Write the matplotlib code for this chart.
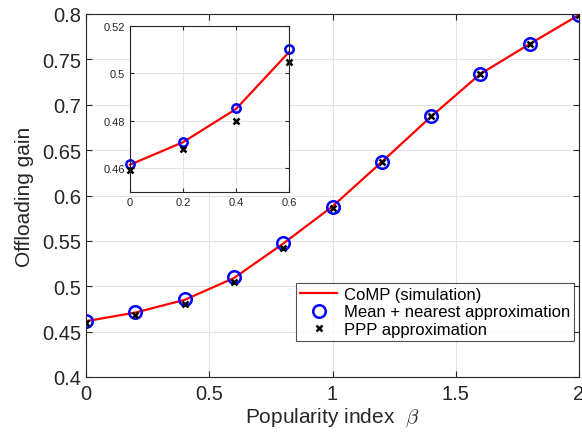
import matplotlib
matplotlib.use('Agg')
import matplotlib.pyplot as plt

plt.rcParams['font.family'] = ['Liberation Sans', 'DejaVu Sans']
plt.rcParams['mathtext.fontset'] = 'cm'

# data
beta = [0, 0.2, 0.4, 0.6, 0.8, 1.0, 1.2, 1.4, 1.6, 1.8, 2.0]
comp_sim = [0.4615, 0.4710, 0.4850, 0.5090, 0.5470, 0.5880, 0.6370, 0.6870, 0.7340, 0.7670, 0.7990]
mean_nearest = [0.4618, 0.4711, 0.4854, 0.5105, 0.5477, 0.5877, 0.6370, 0.6880, 0.7340, 0.7670, 0.7990]
ppp = [0.4593, 0.4680, 0.4801, 0.5049, 0.5425, 0.5865, 0.6365, 0.6875, 0.7335, 0.7665, 0.7985]

grid_col = '#e3e3e3'
axis_col = '#262626'


def style(ax, size):
    ax.grid(True, color=grid_col, linewidth=0.8)
    ax.set_axisbelow(True)
    ax.tick_params(direction='in', top=True, right=True, labelsize=size,
                   colors=axis_col, length=4)
    for s in ax.spines.values():
        s.set_color(axis_col)
        s.set_linewidth(0.8)


fig = plt.figure(figsize=(5.82, 4.39), dpi=100)
W, H = 582, 439
ax = fig.add_axes([86 / W, 1 - 378 / H, (579 - 86) / W, (378 - 15) / H])

ax.plot(beta, comp_sim, color='red', lw=1.6, label='CoMP (simulation)')
ax.plot(beta, mean_nearest, 'o', ms=9, mfc='none', mec='blue', mew=1.8,
        label='Mean + nearest approximation')
ax.plot(beta, ppp, 'x', ms=5, color='black', mew=1.8, label='PPP approximation')
ax.set_xlim(0, 2)
ax.set_ylim(0.4, 0.8)
ax.set_xticks([0, 0.5, 1, 1.5, 2])
ax.set_xticklabels(['0', '0.5', '1', '1.5', '2'])
ax.set_yticks([0.4, 0.45, 0.5, 0.55, 0.6, 0.65, 0.7, 0.75, 0.8])
ax.set_yticklabels(['0.4', '0.45', '0.5', '0.55', '0.6', '0.65', '0.7', '0.75', '0.8'])
style(ax, 14.5)
ax.tick_params(axis='x', pad=5)
ax.set_xlabel(r'Popularity index  $\beta$', fontsize=15, color=axis_col, labelpad=2)
ax.set_ylabel('Offloading gain', fontsize=15, color=axis_col, labelpad=0)
ax.yaxis.set_label_coords(-0.105, 0.5)

leg = ax.legend(loc='lower right', bbox_to_anchor=(1.0, 0.085), fontsize=12,
                frameon=True, fancybox=False, edgecolor=axis_col,
                handlelength=2.2, handletextpad=0.4, borderpad=0.25,
                labelspacing=0.15, borderaxespad=0.3)
leg.get_frame().set_linewidth(0.8)

# inset zoom on the first few points
ins = fig.add_axes([130 / W, 1 - 193 / H, (289 - 130) / W, (193 - 27) / H])
ins.set_facecolor('white')
ins.plot(beta[:4], comp_sim[:4], color='red', lw=1.6)
ins.plot(beta[:4], mean_nearest[:4], 'o', ms=6, mfc='none', mec='blue', mew=1.8)
ins.plot(beta[:4], ppp[:4], 'x', ms=4, color='black', mew=1.8)
ins.set_xlim(0, 0.6)
ins.set_ylim(0.45, 0.52)
ins.set_xticks([0, 0.2, 0.4, 0.6])
ins.set_xticklabels(['0', '0.2', '0.4', '0.6'])
ins.set_yticks([0.46, 0.48, 0.5, 0.52])
ins.set_yticklabels(['0.46', '0.48', '0.5', '0.52'])
style(ins, 8)
ins.tick_params(length=3)
for m in ins.lines:
    m.set_clip_on(False)

fig.savefig('out.png', dpi=100)
